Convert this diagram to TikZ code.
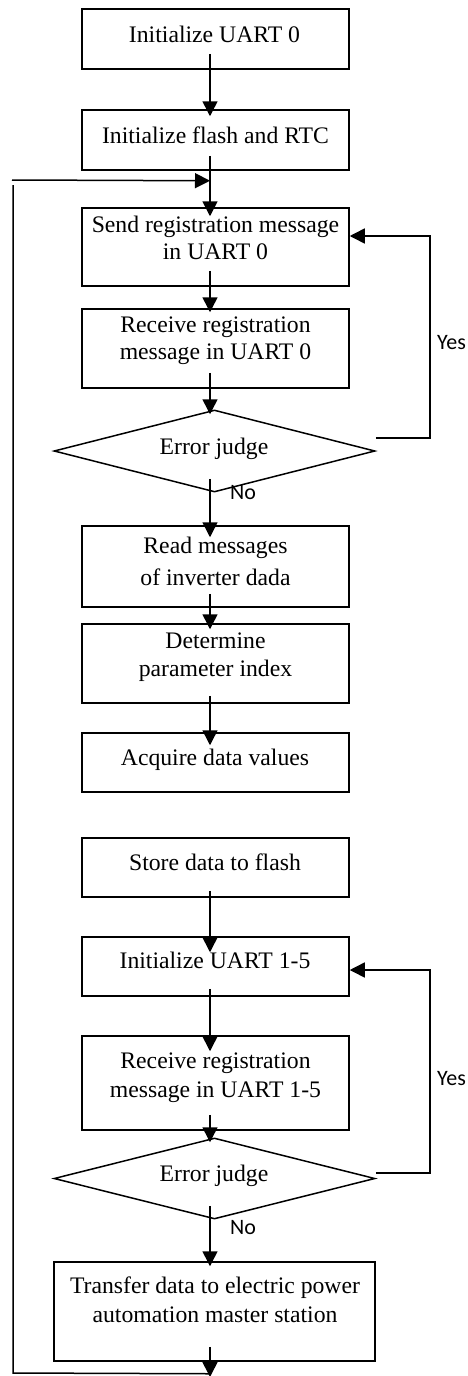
\documentclass[tikz,border=0pt]{standalone}
\usepackage{fontspec}
\setmainfont{Liberation Serif}
\newfontfamily\labfont{Carlito}
\usetikzlibrary{shapes.geometric,arrows.meta,calc}
\begin{document}
\begin{tikzpicture}[x=1pt,y=-1pt,
  box/.style={draw,line width=1.5pt,inner sep=0pt,minimum width=267pt},
  dia/.style={draw,diamond,line width=1.5pt,inner sep=0pt,minimum width=321pt},
  txt/.style={font=\fontsize{23.7}{28}\selectfont,align=center,anchor=base,inner sep=0pt},
  lab/.style={font=\labfont\fontsize{22}{26}\selectfont,anchor=base west,inner sep=0pt},
  arr/.style={line width=1.5pt,-{Triangle[length=15pt,width=15pt]}},
  ln/.style={line width=1.5pt}]
\useasboundingbox (0,0) rectangle (468,1376);
% boxes
\node[box,minimum height=60pt] (b1) at (215.5,39) {};
\node[box,minimum height=60pt] (b2) at (215.5,140) {};
\node[box,minimum height=78pt] (b3) at (215.5,247) {};
\node[box,minimum height=79pt] (b4) at (215.5,348.5) {};
\node[dia,minimum height=82pt] (d1) at (214.5,451) {};
\node[box,minimum height=81pt] (b5) at (215.5,566.5) {};
\node[box,minimum height=79pt] (b6) at (215.5,663.5) {};
\node[box,minimum height=59pt] (b7) at (215.5,762.5) {};
\node[box,minimum height=59pt] (b8) at (215.5,867.5) {};
\node[box,minimum height=59pt] (b9) at (215.5,966.5) {};
\node[box,minimum height=94pt] (b10) at (215.5,1083) {};
\node[dia,minimum height=81pt] (d2) at (214.5,1178.5) {};
\node[box,minimum width=321pt,minimum height=99pt] (b11) at (214.5,1311.5) {};
% texts (anchor base = last line baseline)
\node[txt] (t1) at (214.5,42) {Initialize UART 0};
\node[txt] (t2) at (215.5,143) {Initialize flash and RTC};
\node[txt] (t3) at (215.5,259) {Send registration message\\[-1pt]in UART 0};
\node[txt] (t4) at (215.5,359) {Receive registration\\[-1pt]message in UART 0};
\node[txt] (td1) at (214,454) {Error judge};
\node[txt] (t5) at (215.5,585) {Read messages\\[4pt]of inverter dada};
\node[txt] (t6) at (215.5,676) {Determine\\parameter index};
\node[txt] (t7) at (215,765) {Acquire data values};
\node[txt] (t8) at (215,870) {Store data to flash};
\node[txt] (t9) at (215,968) {Initialize UART 1-5};
\node[txt] (t10) at (215.5,1097) {Receive registration\\[1pt]message in UART 1-5};
\node[txt] (td2) at (214,1181) {Error judge};
\node[txt] (t11) at (215,1322) {Transfer data to electric power\\[1pt]automation master station};
\node[lab] (yes1) at (437,349) {Yes};
\node[lab] (yes2) at (437,1085) {Yes};
\node[lab] (no1) at (230,499) {No};
\node[lab] (no2) at (230,1234) {No};
% main flow
\draw[arr] ($(b1.south)+(-5.5,-16)$) -- ($(b2.north)+(-5.5,7)$);
\draw[arr] ($(b2.south)+(-5.5,-15)$) -- ($(b3.north)+(-5.5,9)$);
\draw[arr] ($(b3.south)+(-5.5,-16)$) -- ($(b4.north)+(-5.5,4)$);
\draw[arr] ($(b4.south)+(-5.5,-16)$) -- ($(d1.north)+(-4.5,5)$);
\draw[arr] ($(d1.south)+(-4.5,-14)$) -- ($(b5.north)+(-5.5,12)$);
\draw[arr] ($(b5.south)+(-5.5,-14)$) -- ($(b6.north)+(-5.5,6)$);
\draw[arr] ($(b6.south)+(-5.5,-8)$) -- ($(b7.north)+(-5.5,13)$);
\draw[arr] ($(b8.south)+(-5.5,-7)$) -- ($(b9.north)+(-5.5,16)$);
\draw[arr] ($(b9.south)+(-5.5,-8)$) -- ($(b10.north)+(-5.5,16)$);
\draw[arr] ($(b10.south)+(-5.5,-16)$) -- ($(d2.north)+(-4.5,5)$);
\draw[arr] ($(d2.south)+(-4.5,-14)$) -- ($(b11.north)+(-4.5,5)$);
\coordinate (end) at (210,1377);
\draw[arr] ($(b11.south)+(-4.5,-15)$) -- (end);
% yes loops
\draw[arr] ($(d1.east)+(0,-13)$) -- ++(54,0) |- ($(b3.east)+(0,-11)$);
\draw[arr] ($(d2.east)+(0,-5.5)$) -- ++(54,0) |- ($(b9.east)+(0,3.5)$);
% outer loop
\coordinate (lb) at (13,1373);
\coordinate (lt) at (13,185);
\draw[ln] ($(b11.south)+(-4.5,12)$) -- (lb) -- (lt);
\draw[arr] ($(lt)+(-1,-5)$) -- ($(b2.south)+(-5.5,10)$);
\end{tikzpicture}
\end{document}
